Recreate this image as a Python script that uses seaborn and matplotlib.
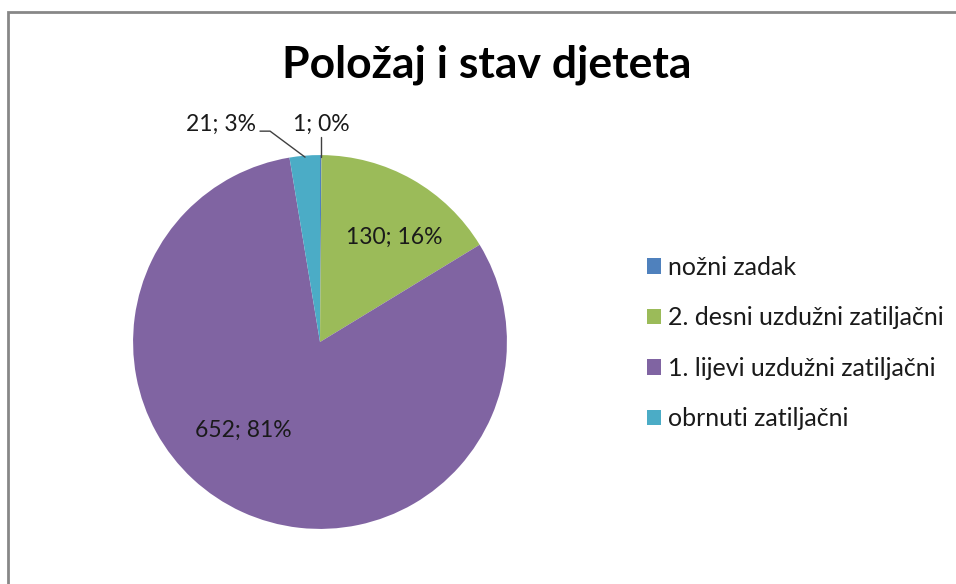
import numpy as np
import matplotlib
matplotlib.use("Agg")
import matplotlib.pyplot as plt
import seaborn as sns
from matplotlib.patches import Rectangle

kategorije = ['nožni zadak', '2. desni uzdužni zatiljačni', '1. lijevi uzdužni zatiljačni', 'obrnuti zatiljačni']
broj = [1, 130, 652, 21]
boje = ['#4F81BD', '#9BBB59', '#8064A2', '#4BACC6']

sns.set_theme(style="white")
plt.rcParams['font.family'] = ['Lato', 'DejaVu Sans']

fig = plt.figure(figsize=(9.56, 5.84), dpi=100)
fig.patch.set_facecolor('white')

# okvir grafikona (izlazi preko desnog i donjeg ruba)
fig.patches.append(Rectangle((8 / 956, -0.1), 1.2, (584 - 12) / 584 + 0.1, transform=fig.transFigure,
                             fill=False, edgecolor='#878787', linewidth=2))

ax = fig.add_axes([77 / 956, -1 / 584, 486 / 956, 486 / 584])
wedges, _ = ax.pie(broj, colors=boje, startangle=90, counterclock=False, radius=1,
                   wedgeprops=dict(linewidth=0))
ax.set_xlim(-1.3, 1.3)
ax.set_ylim(-1.3, 1.3)
ax.set_aspect('equal')
ax.axis('off')

ukupno = sum(broj)
oznake = [f"{b}; {round(100 * b / ukupno):.0f}%" for b in broj]
tekst_boja = '#1a1a1a'
fs = 16.5

# oznake unutar isječaka
ax.text(0.395, 0.56, oznake[1], ha='center', va='center', fontsize=fs, color=tekst_boja)
ax.text(-0.41, -0.47, oznake[2], ha='center', va='center', fontsize=fs, color=tekst_boja)

# vanjske oznake s linijama
ax.text(0.008, 1.166, oznake[0], ha='center', va='center', fontsize=fs, color=tekst_boja)
ax.plot([0.008, 0.008], [1.096, 0.99], color='#404040', linewidth=1)
ax.text(-0.34, 1.166, oznake[3], ha='right', va='center', fontsize=fs, color=tekst_boja)
ax.plot([-0.321, -0.267, -0.080], [1.128, 1.128, 0.989], color='#404040', linewidth=1)

fig.text(487 / 956, 1 - 65 / 584, 'Položaj i stav djeteta', ha='center', va='center',
         fontsize=32, fontweight='bold', color='black')

leg = fig.legend(wedges, kategorije, loc='center left', bbox_to_anchor=(624 / 956, 1 - 343 / 584),
                 frameon=False, fontsize=18, handlelength=0.56, handleheight=0.56,
                 handletextpad=0.32, labelspacing=1.1)
for t in leg.get_texts():
    t.set_color(tekst_boja)

fig.savefig('out.png', dpi=100, facecolor='white')
